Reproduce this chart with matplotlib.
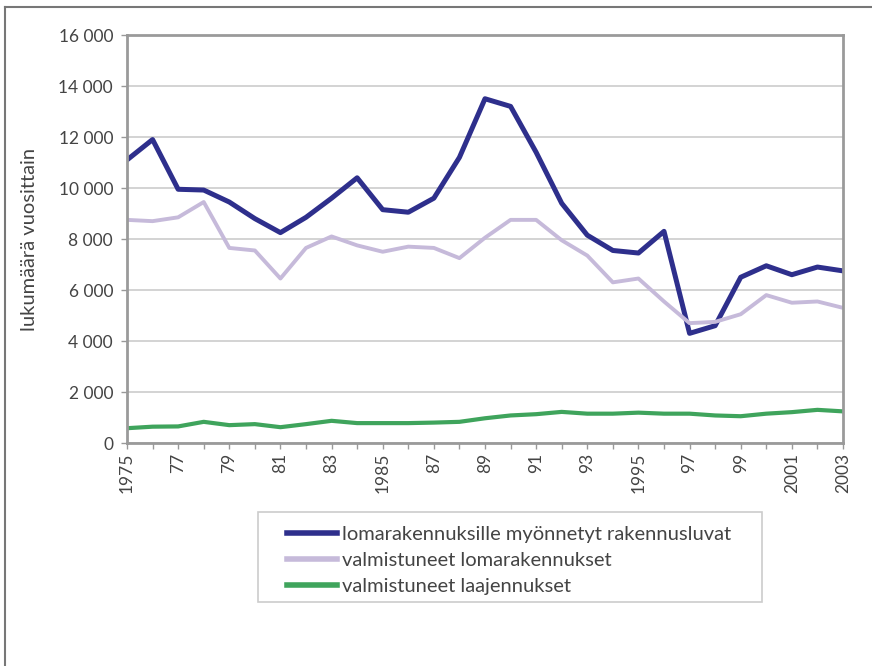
import matplotlib
matplotlib.use("Agg")
import matplotlib.pyplot as plt
from matplotlib.ticker import FuncFormatter, MultipleLocator
from matplotlib.lines import Line2D
from matplotlib.patches import Rectangle

plt.rcParams['font.family'] = ['Lato', 'DejaVu Sans']

years = list(range(1975, 2004))

luvat = [11100, 11900, 9950, 9920, 9450, 8800, 8250, 8850, 9600, 10400,
         9150, 9050, 9600, 11200, 13500, 13200, 11400, 9400, 8150, 7550,
         7450, 8300, 4300, 4600, 6500, 6950, 6600, 6900, 6750]

valmiit = [8750, 8700, 8850, 9450, 7650, 7550, 6450, 7650, 8100, 7750,
           7500, 7700, 7650, 7250, 8050, 8750, 8750, 7950, 7350, 6300,
           6450, 5550, 4700, 4750, 5050, 5800, 5500, 5550, 5300]

laajennukset = [580, 640, 650, 830, 700, 740, 620, 740, 870, 780,
                780, 780, 800, 830, 970, 1080, 1130, 1220, 1150, 1150,
                1190, 1150, 1150, 1080, 1050, 1150, 1210, 1300, 1240]

labels = ["lomarakennuksille myönnetyt rakennusluvat",
          "valmistuneet lomarakennukset",
          "valmistuneet laajennukset"]

tick_years = [1975, 1977, 1979, 1981, 1983, 1985, 1987, 1989, 1991, 1993,
              1995, 1997, 1999, 2001, 2003]
tick_labels = ["1975", "77", "79", "81", "83", "1985", "87", "89", "91", "93",
               "1995", "97", "99", "2001", "2003"]

colors = ["#2e2f8c", "#c6bada", "#3fa45c"]
widths = [3.6, 2.8, 3.0]

W, H = 872, 666
fig = plt.figure(figsize=(W / 100, H / 100), dpi=100)
ax = fig.add_axes([127 / W, 1 - 443 / H, 716 / W, 408 / H])

for series, c, w, lab in zip([luvat, valmiit, laajennukset], colors, widths, labels):
    ax.plot(years, series, color=c, linewidth=w, label=lab)

ax.set_xlim(1975, 2003)
ax.set_ylim(0, 16000)
ax.yaxis.set_major_locator(MultipleLocator(2000))
ax.yaxis.set_major_formatter(FuncFormatter(lambda v, p: f"{int(v):,}".replace(",", " ")))
ax.grid(axis='y', color='#cccccc', linewidth=1.2)
ax.set_axisbelow(True)

ax.set_xticks(years, minor=True)
ax.set_xticks(tick_years)
ax.set_xticklabels(tick_labels, rotation=90)
ax.tick_params(axis='x', which='both', length=4, color='#999999', width=1,
               labelsize=12.5, labelcolor='#444444', pad=3)
ax.tick_params(axis='y', length=4, color='#999999', width=1,
               labelsize=12.5, labelcolor='#444444', pad=6)

for s in ax.spines.values():
    s.set_color('#9a9a9a')
    s.set_linewidth(2)

ax.set_ylabel("lukumäärä vuosittain", fontsize=14.5, color='#444444', labelpad=15)

# legend box drawn separately so padding matches the original
fig.add_artist(Rectangle((258 / W, 1 - 602 / H), 504 / W, 90 / H,
                         transform=fig.transFigure, facecolor='white',
                         edgecolor='#cccccc', linewidth=1.2))
handles = [Line2D([], [], color=c, linewidth=4) for c in colors]
leg = fig.legend(handles, labels, loc='upper left',
                 bbox_to_anchor=(287 / W, 1 - 526 / H),
                 fontsize=14.5, frameon=False,
                 handlelength=2.5, handletextpad=0.25, labelspacing=0.45,
                 borderpad=0, borderaxespad=0)
for t in leg.get_texts():
    t.set_color('#444444')

# outer frame (top and left edges only)
fig.add_artist(Line2D([5 / W, 1.0], [1 - 7 / H, 1 - 7 / H],
                      transform=fig.transFigure, color='#777777', linewidth=1.5))
fig.add_artist(Line2D([5 / W, 5 / W], [0.0, 1 - 7 / H],
                      transform=fig.transFigure, color='#777777', linewidth=1.5))

fig.savefig("out.png", dpi=100)
